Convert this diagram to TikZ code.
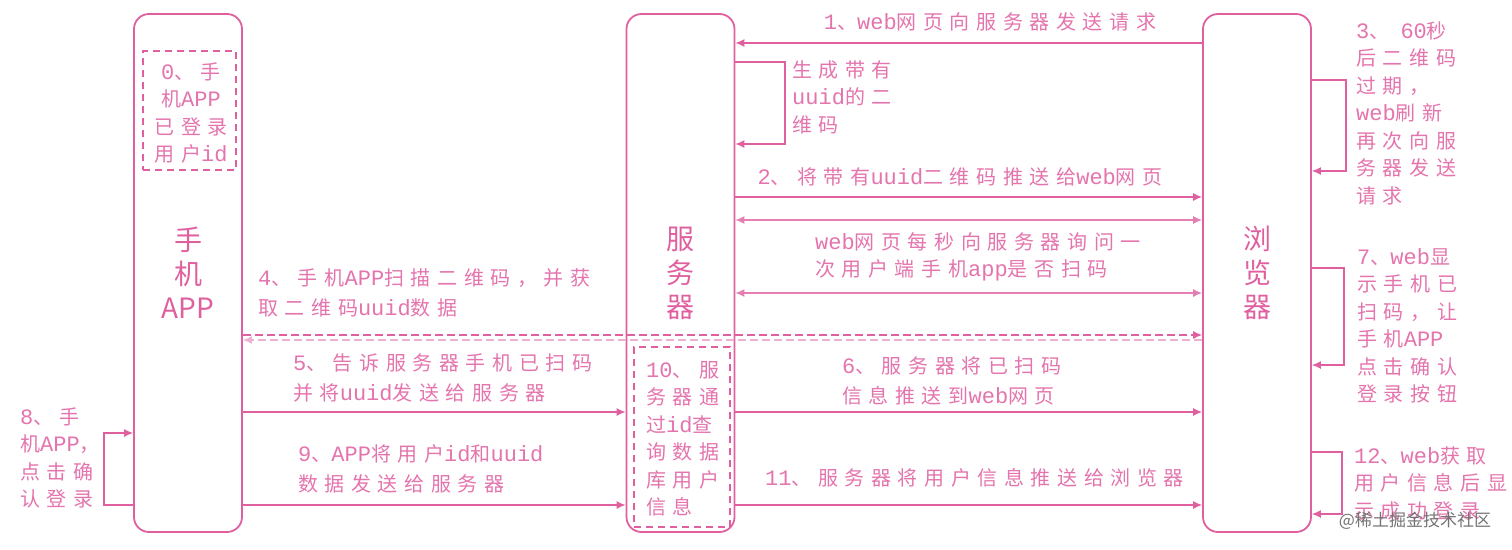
\documentclass[tikz,border=0pt]{standalone}
\usepackage{fontspec}
\setmainfont{Noto Sans CJK SC}
\newfontfamily\cnlab[LetterSpace=33]{Noto Sans CJK SC}
\newfontfamily\cnbig{Noto Sans CJK SC}
\newfontfamily\monof[Scale=1.1]{Liberation Mono}
\newcommand\lw[1]{{\monof #1}}
\usetikzlibrary{arrows.meta}
\definecolor{pk}{HTML}{E0609F}
\definecolor{pkline}{HTML}{E57FB3}
\definecolor{pktext}{HTML}{E474AD}
\definecolor{pklight}{HTML}{EBB3CF}
\newcommand\labfont{\fontsize{20}{27.5}\selectfont\cnlab}
\newcommand\labfontw{\fontsize{20}{30.5}\selectfont\cnlab}
\tikzset{
  actor/.style={draw=pk, line width=1.8pt, rounded corners=15pt, minimum width=108pt,
    minimum height=518pt, inner sep=0pt, text=pk, align=center,
    font=\fontsize{28}{34}\selectfont\cnbig},
  dbox/.style={draw=pk, line width=1.8pt, dash pattern=on 7pt off 5pt, inner sep=0pt},
  lab/.style={text=pktext, font=\labfont, align=left, inner sep=0pt},
  labw/.style={text=pktext, font=\labfontw, align=left, inner sep=0pt},
  msg/.style={draw=pkline, line width=1.2pt, -{Latex[length=9pt,width=8pt]}, color=pk},
  msgb/.style={draw=pkline, line width=1.2pt, {Latex[length=9pt,width=8pt]}-{Latex[length=9pt,width=8pt]}},
}
\begin{document}
\begin{tikzpicture}[x=1pt,y=-1pt]
\useasboundingbox (0,0) rectangle (1512,549);
% actors
\node[actor] (app) at (188,273) {手\\机\\APP};
\node[actor] (srv) at (680.5,273) {服\\务\\器};
\node[actor] (brw) at (1257,273) {浏\\览\\器};
% dashed boxes
\node[dbox, minimum width=93pt, minimum height=119pt] (d0) at (189.5,110.5) {};
\node[lab, align=center] (t0) at (191,113) {\lw{0}、手\\机\lw{APP}\\已登录\\用户\lw{id}};
\node[dbox, minimum width=96pt, minimum height=180pt] (d10) at (682,437) {};
\node[lab, anchor=west] (t10) at (646,439) {\lw{10}、服\\务器通\\过\lw{id}查\\询数据\\库用户\\信息};
% y helpers
\foreach \n/\y in {a/43,b/197,c/220,d/293,e/335,f/340,g/412,h/505}{\coordinate (y\n) at (0,\y);}
% loop corners
\coordinate (ls1) at (785,62);  \coordinate (ls2) at (785,144);
\coordinate (lb1) at (1346,80); \coordinate (lb2) at (1346,171);
\coordinate (lc1) at (1344,268); \coordinate (lc2) at (1344,365);
\coordinate (ld1) at (1342,452); \coordinate (ld2) at (1342,514);
\coordinate (la1) at (104,505); \coordinate (la2) at (104,433);
% messages
\draw[msg] (brw.west |- ya) -- (srv.east |- ya);
\node[lab, anchor=center] (t1) at (990,22) {\lw{1}、\lw{web}网页向服务器发送请求};
\draw[msg] (srv.east |- ls1) -- (ls1) -- (ls2) -- (srv.east |- ls2);
\node[lab, anchor=west] (tg) at (792,97) {生成带有\\\lw{uuid}的二\\维码};
\draw[msg] (srv.east |- yb) -- (brw.west |- yb);
\node[lab, anchor=center] (t2) at (960,177) {\lw{2}、将带有\lw{uuid}二维码推送给\lw{web}网页};
\draw[msgb] (srv.east |- yc) -- (brw.west |- yc);
\draw[msgb] (srv.east |- yd) -- (brw.west |- yd);
\node[lab, anchor=west] (tp) at (815,257) {\lw{web}网页每秒向服务器询问一\\次用户端手机\lw{app}是否扫码};
\draw[msg] (brw.east |- lb1) -- (lb1) -- (lb2) -- (brw.east |- lb2);
\node[lab, anchor=north west] (t3) at (1356,21) {\lw{3}、 \lw{60}秒\\后二维码\\过期，\\\lw{web}刷新\\再次向服\\务器发送\\请求};
\draw[msg, draw=pk, dash pattern=on 8pt off 4pt] (app.east |- ye) -- (brw.west |- ye);
\draw[msg, draw=pklight, dash pattern=on 8pt off 4pt] (brw.west |- yf) -- (app.east |- yf);
\node[labw, anchor=west] (t4) at (258,293) {\lw{4}、手机\lw{APP}扫描二维码，并获\\取二维码\lw{uuid}数据};
\draw[msg] (app.east |- yg) -- (srv.west |- yg);
\node[labw, anchor=west] (t5) at (293,378) {\lw{5}、告诉服务器手机已扫码\\并将\lw{uuid}发送给服务器};
\draw[msg] (srv.east |- yg) -- (brw.west |- yg);
\node[labw, anchor=west] (t6) at (842,381) {\lw{6}、服务器将已扫码\\信息推送到\lw{web}网页};
\draw[msg] (brw.east |- lc1) -- (lc1) -- (lc2) -- (brw.east |- lc2);
\node[lab, anchor=north west] (t7) at (1357,248) {\lw{7}、\lw{web}显\\示手机已\\扫码，让\\手机\lw{APP}\\点击确认\\登录按钮};
\draw[msg] (app.west |- la1) -- (la1) -- (la2) -- (app.west |- la2);
\node[lab, anchor=west] (t8) at (20,458) {\lw{8}、手\\机\lw{APP}，\\点击确\\认登录};
\draw[msg] (app.east |- yh) -- (srv.west |- yh);
\node[labw, anchor=west] (t9) at (298,469) {\lw{9}、\lw{APP}将用户\lw{id}和\lw{uuid}\\数据发送给服务器};
\draw[msg] (srv.east |- yh) -- (brw.west |- yh);
\node[lab, anchor=west] (t11) at (765,478) {\lw{11}、服务器将用户信息推送给浏览器};
\draw[msg] (brw.east |- ld1) -- (ld1) -- (ld2) -- (brw.east |- ld2);
\node[lab, anchor=north west] (t12) at (1354,446) {\lw{12}、\lw{web}获取\\用户信息后显\\示成功登录};
\node[text=black!55, font=\fontsize{17}{20}\selectfont\cnbig, inner sep=0pt] (wm) at (1415,521) {@稀土掘金技术社区};
\end{tikzpicture}
\end{document}
